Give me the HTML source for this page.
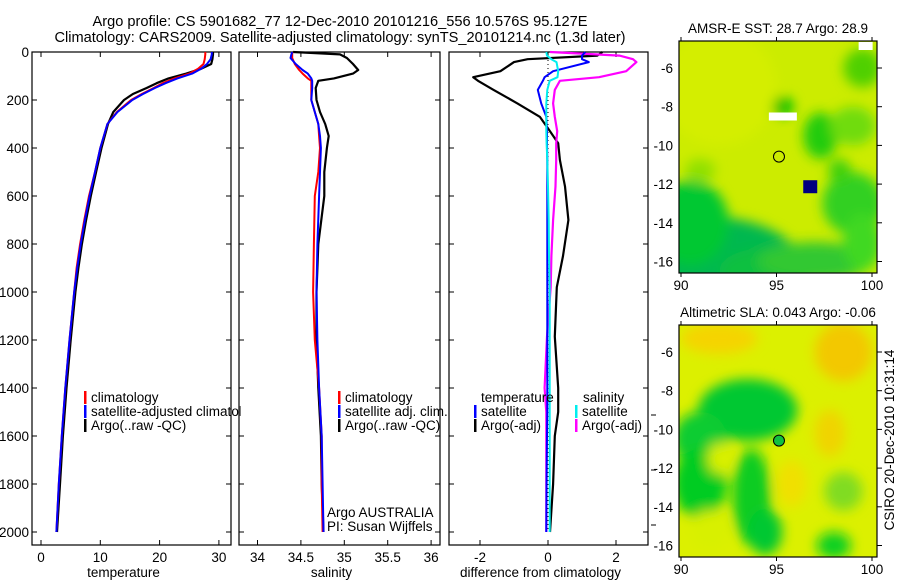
<!DOCTYPE html>
<html><head><meta charset="utf-8"><style>
body{margin:0;background:#fff;}
svg{display:block;font-family:"Liberation Sans",sans-serif;}
</style></head><body>
<svg id="fig" width="900" height="580" viewBox="0 0 900 580">
<text x="340" y="26" font-size="14.6" text-anchor="middle">Argo profile: CS 5901682_77 12-Dec-2010 20101216_556 10.576S 95.127E</text>
<text x="340" y="42" font-size="14.6" text-anchor="middle">Climatology: CARS2009. Satellite-adjusted climatology: synTS_20101214.nc (1.3d later)</text>
<g id="plots"></g>
<text transform="translate(894,440) rotate(-90)" font-size="13.5" text-anchor="middle">CSIRO 20-Dec-2010 10:31:14</text>
</svg>
<script>
// ---- data ----
const depths = [0,10,30,50,70,90,110,130,150,175,200,250,300,400,500,600,700,800,900,1000,1200,1400,1600,1800,2000];
const tempClim = [27.7,27.7,27.6,27.4,26.5,25,22.5,20.5,19,17,15.2,12.8,11.2,10,9.1,8.1,7.3,6.6,6.0,5.6,4.8,4.1,3.5,3.0,2.6];
const tempSat  = [28.8,28.8,28.6,28.0,27,25.5,23,21,19.2,17.2,15.4,12.9,11.2,10,9.1,8.2,7.4,6.7,6.1,5.6,4.8,4.1,3.5,3.0,2.6];
const tempArgo = [29.0,29.0,28.9,28.7,27,24.5,21.5,19.5,17.8,15.5,14,12.2,11.3,10.2,9.3,8.4,7.6,6.9,6.3,5.8,5.0,4.3,3.7,3.2,2.7];
const salDepths = [0,10,25,50,75,90,110,120,150,200,250,300,350,400,500,600,800,1000,1200,1400,1600,1800,2000];
const salClim = [34.40,34.40,34.40,34.43,34.48,34.52,34.58,34.62,34.62,34.62,34.66,34.70,34.71,34.72,34.70,34.66,34.65,34.64,34.66,34.71,34.74,34.74,34.75];
const salSat  = [34.40,34.39,34.38,34.44,34.52,34.58,34.62,34.63,34.63,34.62,34.66,34.70,34.72,34.73,34.72,34.71,34.69,34.68,34.69,34.71,34.74,34.75,34.76];
const salArgo = [34.41,34.95,35.03,35.10,35.16,35.10,34.88,34.70,34.67,34.68,34.72,34.78,34.82,34.80,34.77,34.77,34.70,34.68,34.68,34.70,34.73,34.74,34.76];
const diffDepths = [0,15,30,42,80,105,120,158,214,270,330,380,450,560,700,850,980,1186,1400,1500,1600,1800,2000];
const diffTempArgo = [1.6,1.45,-0.6,-1.0,-1.4,-2.2,-2.06,-1.6,-0.9,-0.24,0.06,0.3,0.35,0.5,0.6,0.44,0.26,0.2,0.3,0.3,0.2,0.15,0.06];
const diffTempSat  = [1.1,1.0,1.0,1.2,0.15,-0.1,-0.15,-0.3,-0.2,-0.05,-0.03,-0.03,-0.02,-0.02,-0.02,-0.02,-0.02,-0.02,-0.02,-0.02,-0.03,-0.04,-0.05];
const diffSalSat   = [-0.05,-0.03,0.1,0.25,0.3,0.28,0.05,-0.02,-0.05,-0.05,-0.05,-0.04,-0.02,0,0.02,0.03,0.05,0.05,0.05,0.05,0.05,0.05,0.05];
const diffSalArgo  = [0.06,2.1,2.5,2.6,2.3,1.5,0.35,0.2,0.15,0.2,0.27,0.24,0.24,0.22,0.15,0.1,0.08,-0.03,-0.1,-0.05,-0.05,-0.05,-0.05];
const depthTicks = [0,200,400,600,800,1000,1200,1400,1600,1800,2000];
const tempTicks = [0,10,20,30];
const salTicks = [34,34.5,35,35.5,36];
const diffTicks = [-2,0,2];
const lonTicks = [90,95,100];
const latTicks = [-6,-8,-10,-12,-14,-16];

const NS='http://www.w3.org/2000/svg';
const root=document.getElementById('plots');
function mk(tag,attrs,parent){const e=document.createElementNS(NS,tag);for(const k in attrs)e.setAttribute(k,attrs[k]);(parent||root).appendChild(e);return e;}
const yD = d => 52 + d*0.24;
const xT = t => 41 + t*5.93;
const xS = s => 257.5 + (s-34)*86.8;
const xDf = v => 548 + v*34;
const FS = 13.5;

function panel(name,x0,x1,xScale,ticks,label,showY){
  const g=mk('g',{});
  
  
  const r=mk('rect',{x:x0,y:52,width:x1-x0,height:493,fill:'none',stroke:'#000','stroke-width':1.2},g);
  
  
  ticks.forEach(t=>{
    const x=xScale(t);
    mk('line',{x1:x,x2:x,y1:545,y2:540,stroke:'#000'},g);
    mk('line',{x1:x,x2:x,y1:52,y2:57,stroke:'#000'},g);
    const tx=mk('text',{x:x,y:562,'font-size':FS,'text-anchor':'middle'},g);
    tx.textContent=String(t);
    
    
  });
  depthTicks.forEach(d=>{
    mk('line',{x1:x0,x2:x0+5,y1:yD(d),y2:yD(d),stroke:'#000'},g);
    mk('line',{x1:x1,x2:x1-5,y1:yD(d),y2:yD(d),stroke:'#000'},g);
    if(showY){
      const tx=mk('text',{x:x0-3,y:yD(d)+5,'font-size':FS,'text-anchor':'end'},g);
      tx.textContent=String(d);
      
      
    }
  });
  const lt=mk('text',{x:(x0+x1)/2-8,y:577,'font-size':FS,'text-anchor':'middle'},g);
  lt.textContent=label;
  
  
  return g;
}
function line(g,ds,vals,xs,color,w,name){
  const pts=ds.map((d,i)=>xs(vals[i]).toFixed(1)+','+yD(d).toFixed(1)).join(' ');
  const p=mk('polyline',{points:pts,fill:'none',stroke:color,'stroke-width':w,'stroke-linejoin':'round'},g);
  
  
}
function legend(g,x,y,color,text,name){
  if(color) mk('rect',{x:x,y:y-11,width:2.5,height:13,fill:color},g);
  const t=mk('text',{x:x+7,y:y,'font-size':FS},g);
  t.textContent=text;
  
  
}

// temperature panel
const g1=panel('temperature-panel',32,231,xT,tempTicks,'temperature',true);
line(g1,depths,tempArgo,xT,'#000',2.2,'temp-argo-line');
line(g1,depths,tempClim,xT,'#f00',2,'temp-climatology-line');
line(g1,depths,tempSat,xT,'#00f',2,'temp-satellite-line');
legend(g1,84,402,'#f00','climatology','legend-climatology');
legend(g1,84,416,'#00f','satellite-adjusted climatology','legend-satellite');
legend(g1,84,430,'#000','Argo(..raw -QC)','legend-argo');
// clip overflow of legend text at the next panel
mk('rect',{x:240.5,y:404,width:30,height:16,fill:'#fff'});

// salinity panel
const g2=panel('salinity-panel',239,440,xS,salTicks,'salinity',false);
line(g2,salDepths,salArgo,xS,'#000',2.2,'sal-argo-line');
line(g2,salDepths,salClim,xS,'#f00',2,'sal-climatology-line');
line(g2,salDepths,salSat,xS,'#00f',2,'sal-satellite-line');
legend(g2,338,402,'#f00','climatology','legend-climatology');
legend(g2,338,416,'#00f','satellite adj. clim.','legend-satellite');
legend(g2,338,430,'#000','Argo(..raw -QC)','legend-argo');
legend(g2,320,517,null,'Argo AUSTRALIA','float-owner');
legend(g2,320,531,null,'PI: Susan Wijffels','float-pi');

// difference panel
const g3=panel('difference-panel',449,648,xDf,diffTicks,'difference from climatology',false);
const zl=mk('line',{x1:xDf(0),x2:xDf(0),y1:yD(0),y2:yD(2000),stroke:'#000','stroke-dasharray':'1,3'},g3);


line(g3,diffDepths,diffTempArgo,xDf,'#000',2.2,'diff-temp-argo-line');
line(g3,diffDepths,diffSalArgo,xDf,'#f0f',2.2,'diff-sal-argo-line');
line(g3,diffDepths,diffTempSat,xDf,'#00f',2,'diff-temp-satellite-line');
line(g3,diffDepths,diffSalSat,xDf,'#0ee',2,'diff-sal-satellite-line');
legend(g3,474,402,null,'temperature','legend-temp-header');
legend(g3,474,416,'#00f','satellite','legend-temp-satellite');
legend(g3,474,430,'#000','Argo(-adj)','legend-temp-argo');
legend(g3,576,402,null,'salinity','legend-sal-header');
legend(g3,575,416,'#0ee','satellite','legend-sal-satellite');
legend(g3,575,430,'#f0f','Argo(-adj)','legend-sal-argo');
[415,470,525].forEach(y=>mk('line',{x1:651,x2:656,y1:y,y2:y,stroke:'#000'}));

// maps
const xL = lon => 681 + (lon-90)*19.1;
function map(name,top,bottom,y6,title,base,blobs,circFill){
  const yl = lat => y6 + (-6-lat)*19.35;
  const g=mk('g',{});
  
  
  const cid='clip'+name;
  const cp=mk('clipPath',{id:cid},g);
  mk('rect',{x:679,y:top,width:198,height:bottom-top},cp);
  const ig=mk('g',{'clip-path':'url(#'+cid+')'},g);
  mk('rect',{x:679,y:top,width:198,height:bottom-top,fill:base},ig);
  const bg=mk('g',{filter:'url(#blur)'},ig);
  blobs.forEach(b=>mk('ellipse',{cx:xL(b[0]),cy:yl(b[1]),rx:b[2]*19.1,ry:b[3]*19.35,fill:b[4]},bg));
  const fr=mk('rect',{x:679,y:top,width:198,height:bottom-top,fill:'none',stroke:'#000','stroke-width':1.2},g);
  
  
  lonTicks.forEach(l=>{
    mk('line',{x1:xL(l),x2:xL(l),y1:top,y2:top-4,stroke:'#000'},g);
    mk('line',{x1:xL(l),x2:xL(l),y1:bottom,y2:bottom+4,stroke:'#000'},g);
    const t=mk('text',{x:xL(l),y:bottom+17,'font-size':FS,'text-anchor':'middle'},g);
    t.textContent=String(l);
    
    
  });
  latTicks.forEach(l=>{
    mk('line',{x1:877,x2:882,y1:yl(l),y2:yl(l),stroke:'#000'},g);
    const t=mk('text',{x:673,y:yl(l)+5,'font-size':FS,'text-anchor':'end'},g);
    t.textContent=String(l);
    
    
  });
  const tt=mk('text',{x:778,y:top-8,'font-size':FS,'text-anchor':'middle'},g);
  tt.textContent=title;
  
  
  const c=mk('circle',{cx:xL(95.13),cy:yl(-10.58),r:5.5,fill:circFill,stroke:'#000','stroke-width':1},g);
  
  
  return {g,yl};
}
const defs=mk('defs',{},document.getElementById('fig'));
const f=mk('filter',{id:'blur',x:'-20%',y:'-20%',width:'140%',height:'140%'},defs);
mk('feGaussianBlur',{stdDeviation:6},f);

const m1=map('sst-map',41,273,68,'AMSR-E SST: 28.7 Argo: 28.9','#ccec00',[
 [91.5,-16.5,5,2.8,'#00b850'],[90.5,-14,2,2.2,'#00c830'],[94.5,-16.5,2.5,1.2,'#10c040'],
 [97,-16,3,1,'#30c830'],[99,-13,1.6,1.6,'#30d020'],[99.5,-15,1,1.5,'#40d820'],
 [97.3,-9.5,0.9,1.2,'#20cc10'],[95.3,-8,0.6,0.5,'#00c000'],[99,-9,1.2,1,'#70dc10'],
 [99.5,-6,1,1,'#50d000'],[98.3,-11.3,0.6,0.6,'#40d010'],[91,-11.3,0.8,0.6,'#90e000'],
 [92,-7,3,3,'#d4ee00']],'none');
mk('rect',{x:xL(94.6),y:m1.yl(-8.3),width:28,height:8,fill:'#fff'},m1.g);
mk('rect',{x:xL(99.3),y:42,width:14,height:8,fill:'#fff'},m1.g);
mk('rect',{x:xL(96.4),y:m1.yl(-11.8),width:14,height:13,fill:'#000080'},m1.g);

map('sla-map',325,557,352,'Altimetric SLA: 0.043 Argo: -0.06','#dcf000',[
 [92,-5.3,2,0.8,'#f5d400'],[98.5,-6,1.5,1.5,'#f3c800'],[97.8,-10.2,0.8,1.2,'#f0d400'],[95.8,-12.8,0.8,1.2,'#f0e000'],
 [93.5,-9,2.6,1.6,'#00c830'],[91,-10.5,1.4,1.4,'#10cc30'],[91,-12.8,1.4,1.8,'#00cc20'],
 [93.7,-13.5,1,2.5,'#10cc20'],[94.4,-15.3,0.9,1.2,'#00c830'],[92,-11.5,0.6,0.8,'#d8f000'],
 [91.5,-15.2,1,1,'#d8f000'],[98,-16,0.9,0.7,'#10d020'],[98.5,-13.2,1,1,'#80dc20']],'#10c040');
</script>
</body></html>
